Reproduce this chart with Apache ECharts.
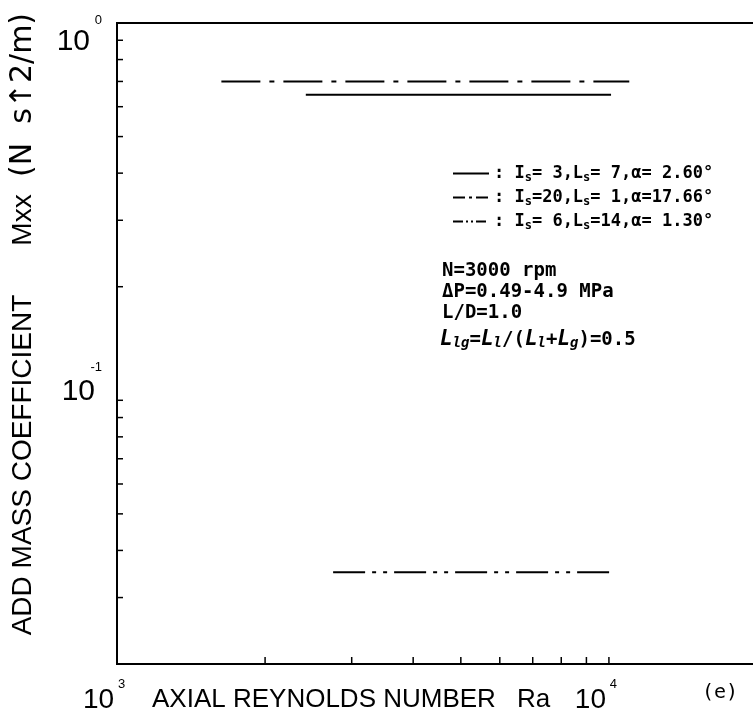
<!DOCTYPE html>
<html><head><meta charset="utf-8">
<script src="https://cdn.jsdelivr.net/npm/echarts@6/dist/echarts.min.js"></script>
<style>html,body{margin:0;padding:0;background:#fff}#c{width:753px;height:727px}</style>
</head><body><div id="c"></div>
<script>
// Axis ranges
const xMin = 1000, xMax = 20000;
const yMin = 0.02, yMax = 1;
// Minor tick values
const xMinorTicks = [2000, 3000, 4000, 5000, 6000, 7000, 8000, 9000, 10000];
const yMinorTicks = [0.03, 0.04, 0.05, 0.06, 0.07, 0.08, 0.09, 0.1, 0.2, 0.3, 0.4, 0.5, 0.6, 0.7, 0.8, 0.9];
// Series
const seriesNames = ['Is=3,Ls=7,a=2.60', 'Is=20,Ls=1,a=17.66', 'Is=6,Ls=14,a=1.30'];
const s1X = [2420, 10100];  const s1Y = [0.645, 0.645];
const s2X = [1630, 11000];  const s2Y = [0.70, 0.70];
const s3X = [2750, 10150];  const s3Y = [0.035, 0.035];
// Legend texts (rich)
const legendTexts = [
  ': {t|I}{sub|s}{t|= 3,L}{sub|s}{t|= 7,α= 2.60°}',
  ': {t|I}{sub|s}{t|=20,L}{sub|s}{t|= 1,α=17.66°}',
  ': {t|I}{sub|s}{t|= 6,L}{sub|s}{t|=14,α= 1.30°}'
];
const infoLines = ['N=3000 rpm', 'ΔP=0.49-4.9 MPa', 'L/D=1.0'];

const chart = echarts.init(document.getElementById('c'), null, {renderer: 'canvas'});
const SANS = '"Liberation Sans", "DejaVu Sans", sans-serif';
const WIDE = '"DejaVu Sans", "Liberation Sans", sans-serif';
const MONO = '"DejaVu Sans Mono", "Liberation Mono", monospace';
const pts = (xs, ys) => xs.map((x, i) => [x, ys[i]]);
const isPow = v => Math.abs(Math.log10(v) - Math.round(Math.log10(v))) < 1e-6;

const option = {
  backgroundColor: '#fff',
  animation: false,
  grid: {left: 117, top: 23, width: 640, height: 641, show: true, borderColor: '#000', borderWidth: 2, outerBoundsMode: 'none', containLabel: false},
  xAxis: {
    type: 'log', logBase: 10, min: xMin, max: xMax,
    axisLine: {show: false}, axisTick: {show: false}, splitLine: {show: false}, minorTick: {show: false},
    axisLabel: {
      margin: 15, color: '#000', showMaxLabel: true, showMinLabel: true,
      formatter: v => isPow(v) ? '{s|' + Math.round(Math.log10(v)) + '}\n{b|10}' : '',
      rich: {
        s: {fontFamily: SANS, fontSize: 13, lineHeight: 10, align: 'center', padding: [0, 0, 0, 9], color: '#000'},
        b: {fontFamily: SANS, fontSize: 28, lineHeight: 22, align: 'center', padding: [0, 37, 0, 0], color: '#000'}
      }
    }
  },
  yAxis: {
    type: 'log', logBase: 10, min: yMin, max: yMax,
    axisLine: {show: false}, axisTick: {show: false}, splitLine: {show: false}, minorTick: {show: false},
    axisLabel: {
      margin: 15, color: '#000', showMaxLabel: true, showMinLabel: true,
      formatter: v => {
        if (!isPow(v)) return '';
        const e = Math.round(Math.log10(v));
        if (e === 0) return '{e0| }\n{as|0}\n{a|10}';
        return '{cs|' + e + '}\n{c|10}\n{e1| }';
      },
      rich: {
        e0: {fontSize: 2, lineHeight: 24, align: 'right'},
        as: {fontFamily: SANS, fontSize: 13, lineHeight: 13, align: 'right', color: '#000'},
        a: {fontFamily: SANS, fontSize: 30, lineHeight: 30, align: 'right', padding: [0, 12, 0, 0], color: '#000'},
        cs: {fontFamily: SANS, fontSize: 13, lineHeight: 15, align: 'right', color: '#000'},
        c: {fontFamily: SANS, fontSize: 30, lineHeight: 33, align: 'right', padding: [0, 7, 0, 0], color: '#000'},
        e1: {fontSize: 2, lineHeight: 32, align: 'right'}
      }
    }
  },
  legend: {
    orient: 'vertical', left: 447, top: 160, itemWidth: 36, itemHeight: 14, itemGap: 5.5,
    selectedMode: false,
    data: [
      {name: seriesNames[0], itemStyle: {opacity: 0}, lineStyle: {type: 'solid', width: 2, color: '#000'}},
      {name: seriesNames[1], itemStyle: {opacity: 0}, lineStyle: {type: [12, 4, 3, 4], width: 2, color: '#000'}},
      {name: seriesNames[2], itemStyle: {opacity: 0}, lineStyle: {type: [10, 3, 2, 3, 2, 3], width: 2, color: '#000'}}
    ],
    formatter: name => legendTexts[seriesNames.indexOf(name)],
    textStyle: {
      color: '#000', fontFamily: MONO, fontWeight: 'bold', fontSize: 17,
      rich: {
        t: {fontFamily: MONO, fontWeight: 'bold', fontSize: 17, lineHeight: 20, color: '#000'},
        sub: {fontFamily: MONO, fontWeight: 'bold', fontSize: 12, lineHeight: 12, verticalAlign: 'bottom', color: '#000'}
      }
    }
  },
  graphic: [
    {type: 'text', x: 152, y: 700, style: {text: 'AXIAL REYNOLDS NUMBER', font: '26px ' + SANS, fill: '#000', align: 'left', verticalAlign: 'middle'}},
    {type: 'text', x: 517, y: 700, style: {text: 'Ra', font: '26px ' + SANS, fill: '#000', align: 'left', verticalAlign: 'middle'}},
    {type: 'text', x: 720, y: 693, style: {text: '(e)', font: '20px ' + MONO, fill: '#000', align: 'center', verticalAlign: 'middle'}},
    {type: 'text', x: 23, y: 465, rotation: Math.PI / 2, style: {text: 'ADD MASS COEFFICIENT', font: '28px ' + SANS, fill: '#000', align: 'center', verticalAlign: 'middle'}},
    {type: 'text', x: 23, y: 220, rotation: Math.PI / 2, style: {text: 'Mxx', font: '28px ' + SANS, fill: '#000', align: 'center', verticalAlign: 'middle'}},
    {type: 'text', x: 23, y: 95, rotation: Math.PI / 2, style: {text: '(N  s↑2/m)', font: '30px ' + WIDE, fill: '#000', align: 'center', verticalAlign: 'middle'}},
    {type: 'text', x: 442, y: 271, style: {text: infoLines[0], font: 'bold 19px ' + MONO, fill: '#000', align: 'left', verticalAlign: 'middle'}},
    {type: 'text', x: 442, y: 292, style: {text: infoLines[1], font: 'bold 19px ' + MONO, fill: '#000', align: 'left', verticalAlign: 'middle'}},
    {type: 'text', x: 442, y: 313, style: {text: infoLines[2], font: 'bold 19px ' + MONO, fill: '#000', align: 'left', verticalAlign: 'middle'}},
    {type: 'text', x: 440, y: 340, style: {
      text: '{i|L}{sub|lg}{t|=}{i|L}{sub|l}{t|/(}{i|L}{sub|l}{t|+}{i|L}{sub|g}{t|)=0.5}',
      align: 'left', verticalAlign: 'middle',
      rich: {
        t: {font: 'bold 19px ' + MONO, fill: '#000', lineHeight: 20},
        i: {font: 'italic bold 21px ' + MONO, fill: '#000', lineHeight: 20},
        sub: {font: 'italic bold 14px ' + MONO, fill: '#000', lineHeight: 13, verticalAlign: 'bottom'}
      }
    }}
  ],
  series: [
    {name: seriesNames[0], type: 'line', data: pts(s1X, s1Y), symbol: 'none', showSymbol: false, lineStyle: {color: '#000', width: 2, type: 'solid'}, itemStyle: {color: '#000'}},
    {name: seriesNames[1], type: 'line', data: pts(s2X, s2Y), symbol: 'none', showSymbol: false, lineStyle: {color: '#000', width: 2, type: [39, 9, 5, 9]}, itemStyle: {color: '#000'}},
    {name: seriesNames[2], type: 'line', data: pts(s3X, s3Y), symbol: 'none', showSymbol: false, lineStyle: {color: '#000', width: 2, type: [32, 7, 4, 7, 4, 7]}, itemStyle: {color: '#000'}},
    {name: 'xticks', type: 'custom', silent: true, clip: false,
      data: xMinorTicks.map(v => [v, yMin]),
      renderItem: (params, api) => {
        const p = api.coord([api.value(0), api.value(1)]);
        return {type: 'line', shape: {x1: p[0], y1: p[1], x2: p[0], y2: p[1] - 7}, style: {stroke: '#000', lineWidth: 1.5}};
      }
    },
    {name: 'yticks', type: 'custom', silent: true, clip: false,
      data: yMinorTicks.map(v => [xMin, v]),
      renderItem: (params, api) => {
        const p = api.coord([api.value(0), api.value(1)]);
        return {type: 'line', shape: {x1: p[0], y1: p[1], x2: p[0] + 6, y2: p[1]}, style: {stroke: '#000', lineWidth: 1.5}};
      }
    }
  ]
};
chart.setOption(option);
</script></body></html>
